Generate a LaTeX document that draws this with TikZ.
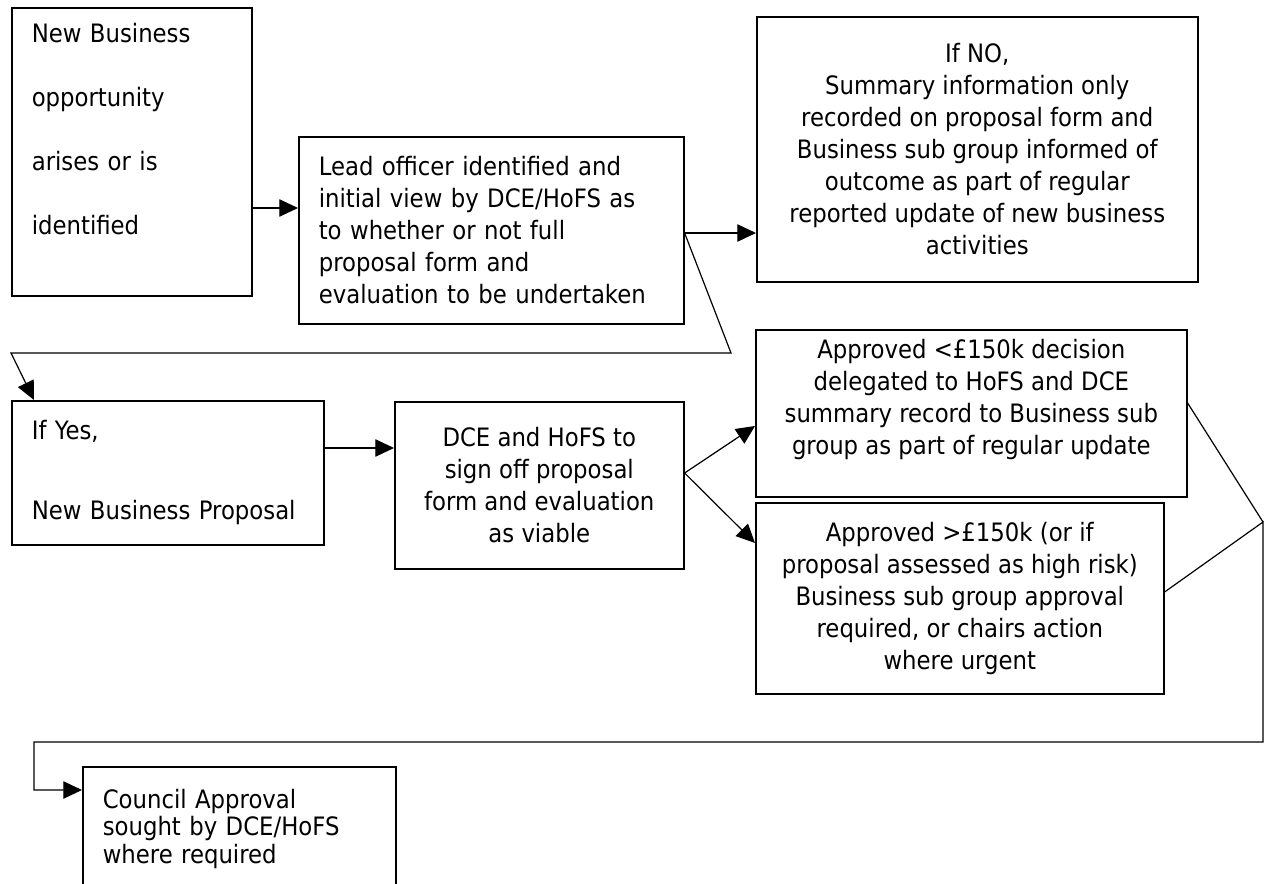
\documentclass[tikz,border=0pt]{standalone}
\usepackage{fontspec}
\setmainfont{DejaVu Sans Condensed}
\usetikzlibrary{arrows.meta,calc}
\tikzset{
  bizbox/.style={draw,line width=1.2pt,anchor=north west,inner sep=0pt,align=center,font=\fontsize{19}{24}\selectfont},
  bizleft/.style={draw,line width=1.2pt,anchor=north west,inner xsep=15pt,inner ysep=0pt,align=left,font=\fontsize{19}{24}\selectfont},
  bizflow/.style={-{Triangle[length=14pt,width=13pt]},line width=0.9pt},
  bizline/.style={line width=0.9pt},
}

\begin{document}
\begin{tikzpicture}[x=0.75pt,y=-0.75pt]
 % new business flow
\clip (0,0) rectangle (1266,884);
\node[bizleft,minimum width=180pt,minimum height=216pt,text width=150pt,font=\fontsize{19}{48}\selectfont] (newbiz) at (11,7) {New Business\\opportunity\\arises or is\\identified\\[-14pt]\mbox{}};
\node[bizleft,minimum width=288.75pt,minimum height=140.25pt,text width=258.75pt] (lead) at (298,136) {Lead officer identified and\\initial view by DCE/HoFS as\\to whether or not full\\proposal form and\\evaluation to be undertaken};
\node[bizbox,minimum width=330.75pt,minimum height=198.75pt] (nobox) at (756,16) {If NO,\\Summary information only\\recorded on proposal form and\\Business sub group informed of\\outcome as part of regular\\reported update of new business\\activities};
\node[bizleft,minimum width=234pt,minimum height=108pt,text width=204pt] (yesbox) at (11,400) {If Yes,\\[36pt]New Business Proposal};
\node[bizbox,minimum width=216.75pt,minimum height=125.25pt] (signoff) at (394,401) {DCE and HoFS to\\sign off proposal\\form and evaluation\\as viable};
\node[bizbox,minimum width=323.25pt,minimum height=125.25pt] (small) at (755,329) {Approved <£150k decision\\delegated to HoFS and DCE\\summary record to Business sub\\group as part of regular update\\\mbox{}};
\node[bizbox,minimum width=306pt,minimum height=143.25pt] (large) at (755,502) {Approved >£150k (or if\\proposal assessed as high risk)\\Business sub group approval\\required, or chairs action\\where urgent};
\node[bizleft,minimum width=234.75pt,minimum height=93pt,text width=204.75pt,font=\fontsize{19}{20.6}\selectfont] (council) at (82,766) {Council Approval\\sought by DCE/HoFS\\where required};
\coordinate (join) at (1263,522);
\draw[bizflow] (newbiz.east |- 0,208) -- (lead.west |- 0,208);
\draw[bizflow] (lead.east |- 0,233) -- (nobox.west |- 0,233);
\draw[bizflow] (lead.east |- 0,233) -- (731,353) -- (11,353) -- (yesbox.north west -| 34,0);
\draw[bizflow] (yesbox.east |- 0,448) -- (signoff.west |- 0,448);
\draw[bizflow] (signoff.east |- 0,473) -- (small.west |- 0,426);
\draw[bizflow] (signoff.east |- 0,473) -- (large.west |- 0,543);
\draw[bizline] (small.east |- 0,403) -- (join);
\draw[bizflow] (large.east |- 0,592) -- (join) -- (1263,742) -- (34,742) -- (34,790) -- (council.west |- 0,790);
\end{tikzpicture}
\end{document}
